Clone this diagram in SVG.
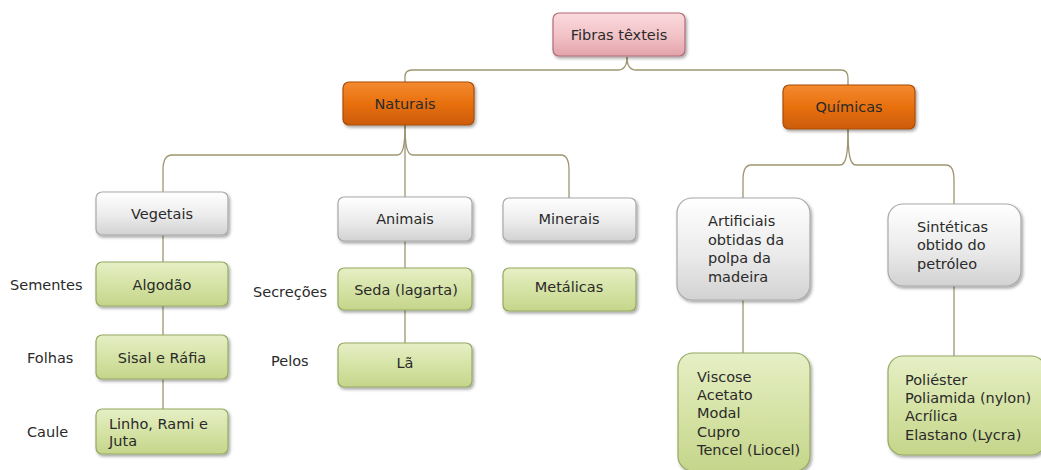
<svg xmlns="http://www.w3.org/2000/svg" width="1041" height="470" viewBox="0 0 1041 470">
<defs>
<linearGradient id="gOrange" x1="0" y1="0" x2="0" y2="1">
<stop offset="0" stop-color="#f48a30"/><stop offset="0.5" stop-color="#e8700e"/><stop offset="1" stop-color="#cc5c06"/>
</linearGradient>
<linearGradient id="gGrey" x1="0" y1="0" x2="0" y2="1">
<stop offset="0" stop-color="#ffffff"/><stop offset="0.55" stop-color="#ebebeb"/><stop offset="1" stop-color="#d2d2d2"/>
</linearGradient>
<linearGradient id="gGreen" x1="0" y1="0" x2="0" y2="1">
<stop offset="0" stop-color="#e6efc6"/><stop offset="0.5" stop-color="#d6e3a6"/><stop offset="1" stop-color="#c5d58a"/>
</linearGradient>
<linearGradient id="gPink" x1="0" y1="0" x2="0" y2="1">
<stop offset="0" stop-color="#fbdadd"/><stop offset="0.55" stop-color="#f1c1c6"/><stop offset="1" stop-color="#e2a3aa"/>
</linearGradient>
<filter id="sh" x="-10%" y="-10%" width="125%" height="135%">
<feDropShadow dx="1.5" dy="2" stdDeviation="1.6" flood-color="#000" flood-opacity="0.35"/>
</filter>
</defs>
<style>
.box{filter:url(#sh);stroke-width:1.2}
.org{fill:url(#gOrange);stroke:#a84c08}
.gry{fill:url(#gGrey);stroke:#a8a8a8}
.grn{fill:url(#gGreen);stroke:#95a862}
.pnk{fill:url(#gPink);stroke:#b26a74}
text{font-family:"DejaVu Sans","Liberation Sans",sans-serif;font-size:14.5px;fill:#2a2a2a}
.c{text-anchor:middle}
.con path{fill:none;stroke:#9d9670;stroke-width:1.3}
</style>
<g class="con" id="connectors">
<path d="M627,57 C627,66 624,70 618,70 L412,70 C407,70 405,73 405,77 L405,82"/>
<path d="M627,57 C627,66 630,70 636,70 L841,70 C846,70 848,73 848,78 L848,85"/>
<path d="M405,125 C405,146 403,155 397,155 L172,155 C166,155 163,160 163,170 L163,192"/>
<path d="M405,125 L405,197"/>
<path d="M405,125 C405,146 407,155 413,155 L561,155 C567,155 569,160 569,170 L569,198"/>
<path d="M848,129 C848,155 846,165 840,165 L751,165 C745,165 743,170 743,180 L743,198"/>
<path d="M848,129 C848,155 850,165 856,165 L946,165 C952,165 954,170 954,180 L954,204"/>
<path d="M163,235 L163,262"/>
<path d="M163,306 L163,335"/>
<path d="M163,379 L163,409"/>
<path d="M405,241 L405,268"/>
<path d="M405,310 L405,343"/>
<path d="M743,300 L743,353"/>
<path d="M954,286 L954,356"/>
</g>
<g id="root"><rect class="box pnk" x="553" y="13" width="132" height="43" rx="6"/><text class="c" x="619" y="40">Fibras têxteis</text></g>
<g id="naturais"><rect class="box org" x="343" y="82" width="131" height="43" rx="6"/><text class="c" x="405" y="109">Naturais</text></g>
<g id="quimicas"><rect class="box org" x="783" y="85" width="132" height="44" rx="6"/><text class="c" x="849" y="112">Químicas</text></g>
<g id="vegetais"><rect class="box gry" x="96" y="192" width="132" height="43" rx="6"/><text class="c" x="162" y="219">Vegetais</text></g>
<g id="animais"><rect class="box gry" x="338" y="197" width="134" height="44" rx="6"/><text class="c" x="405" y="224">Animais</text></g>
<g id="minerais"><rect class="box gry" x="503" y="198" width="133" height="43" rx="6"/><text class="c" x="569" y="224">Minerais</text></g>
<g id="artificiais"><rect class="box gry" x="677" y="198" width="133" height="102" rx="15"/>
<text x="708" y="226">Artificiais</text><text x="708" y="245">obtidas da</text><text x="708" y="263">polpa da</text><text x="708" y="282">madeira</text></g>
<g id="sinteticas"><rect class="box gry" x="888" y="204" width="133" height="82" rx="15"/>
<text x="917" y="232">Sintéticas</text><text x="917" y="250">obtido do</text><text x="917" y="269">petróleo</text></g>
<g id="algodao"><rect class="box grn" x="96" y="262" width="132" height="44" rx="6"/><text class="c" x="162" y="290">Algodão</text></g>
<g id="seda"><rect class="box grn" x="338" y="268" width="134" height="42" rx="6"/><text class="c" x="406" y="295">Seda (lagarta)</text></g>
<g id="metalicas"><rect class="box grn" x="503" y="268" width="133" height="43" rx="6"/><text class="c" x="569" y="292">Metálicas</text></g>
<g id="sisal"><rect class="box grn" x="96" y="335" width="132" height="44" rx="6"/><text class="c" x="162" y="363">Sisal e Ráfia</text></g>
<g id="la"><rect class="box grn" x="338" y="343" width="134" height="44" rx="6"/><text class="c" x="405" y="368">Lã</text></g>
<g id="linho"><rect class="box grn" x="96" y="409" width="132" height="45" rx="6"/><text x="109" y="429">Linho, Rami e</text><text x="109" y="446">Juta</text></g>
<g id="artificiais-lista"><rect class="box grn" x="678" y="353" width="132" height="118" rx="15"/>
<text x="697" y="382">Viscose</text><text x="697" y="400">Acetato</text><text x="697" y="418">Modal</text><text x="697" y="437">Cupro</text><text x="697" y="455">Tencel (Liocel)</text></g>
<g id="sinteticas-lista"><rect class="box grn" x="888" y="356" width="158" height="99" rx="15"/>
<text x="905" y="385">Poliéster</text><text x="905" y="403">Poliamida (nylon)</text><text x="905" y="421">Acrílica</text><text x="905" y="440">Elastano (Lycra)</text></g>
<g id="labels">
<text x="10" y="290">Sementes</text>
<text x="253" y="297">Secreções</text>
<text x="27" y="363">Folhas</text>
<text x="271" y="366">Pelos</text>
<text x="27" y="437">Caule</text>
</g>
</svg>
